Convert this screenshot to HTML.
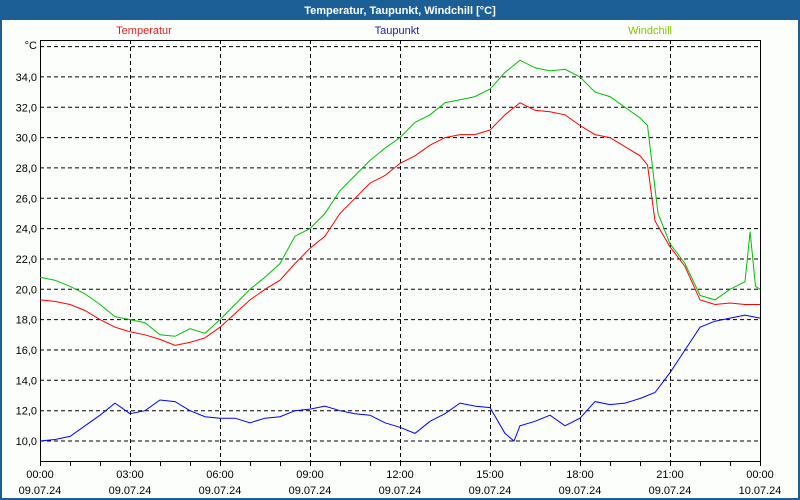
<!DOCTYPE html>
<html><head><meta charset="utf-8"><style>
body{margin:0;width:800px;height:500px;overflow:hidden;background:#1c5f96;font-family:"Liberation Sans",sans-serif}
</style></head><body>
<svg width="800" height="500" xmlns="http://www.w3.org/2000/svg" style="position:absolute;left:0;top:0">
<rect x="0" y="0" width="800" height="500" fill="#1c5f96"/>
<rect x="2" y="20" width="796" height="478" fill="#fcfefc"/>
<text x="400" y="14" fill="#fff" font-size="11" font-weight="bold" text-anchor="middle" font-family="Liberation Sans, sans-serif">Temperatur, Taupunkt, Windchill [°C]</text>
<g id="g" font-family="Liberation Sans, sans-serif" font-size="11"></g>
</svg>
<script>
var g=document.getElementById('g'),s='';
function X(h){return 40+30*h}
function Y(v){return 441-(v-10)*15.17}
for(var v=10;v<=36;v+=2){var y=Y(v).toFixed(1);s+='<line x1="40" x2="760" y1="'+y+'" y2="'+y+'" stroke="#000" stroke-dasharray="4,3"/>';if(v<36)s+='<text x="37" y="'+(+y+4)+'" text-anchor="end">'+v+',0</text>';}
s+='<text x="37" y="49" text-anchor="end">°C</text>';
for(var h=3;h<24;h+=3){s+='<line x1="'+X(h)+'.5" x2="'+X(h)+'.5" y1="40" y2="461" stroke="#000" stroke-dasharray="4,3"/>';}
for(var h=0;h<=24;h++){s+='<line x1="'+(X(h)+.5)+'" x2="'+(X(h)+.5)+'" y1="461" y2="466" stroke="#000"/>';}
for(var h=0;h<=24;h+=3){s+='<text x="'+X(h)+'" y="478" text-anchor="middle">'+(h==24?'00':('0'+h).slice(-2))+':00</text><text x="'+X(h)+'" y="494" text-anchor="middle">'+(h==24?'10.07.24':'09.07.24')+'</text>';}
s+='<rect x="40.5" y="40.5" width="720" height="421" fill="none" stroke="#000"/>';
s+='<text x="144" y="34" fill="#e02020" text-anchor="middle">Temperatur</text><text x="397" y="34" fill="#2020a0" text-anchor="middle">Taupunkt</text><text x="650" y="34" fill="#80c800" text-anchor="middle">Windchill</text>';
function line(d,c){var p=[];for(var i=0;i<d.length;i+=2)p.push(X(d[i]).toFixed(1)+','+Y(d[i+1]).toFixed(1));return '<polyline fill="none" stroke="'+c+'" points="'+p.join(' ')+'"/>';}
var T=[0,19.3,.5,19.2,1,19,1.5,18.6,2,18,2.5,17.5,3,17.2,3.5,17,4,16.7,4.5,16.3,5,16.5,5.5,16.8,6,17.5,6.5,18.4,7,19.3,7.5,20,8,20.6,8.5,21.7,9,22.7,9.5,23.5,10,25,10.5,26,11,27,11.5,27.5,12,28.3,12.5,28.8,13,29.5,13.5,30,14,30.2,14.5,30.2,15,30.5,15.5,31.5,16,32.3,16.5,31.8,17,31.7,17.5,31.5,18,30.8,18.5,30.2,19,30,19.5,29.4,20,28.8,20.25,28.2,20.5,24.5,21,22.8,21.5,21.5,22,19.3,22.5,19,23,19.1,23.5,19,24,19];
var W=[0,20.8,.5,20.6,1,20.2,1.5,19.7,2,19,2.5,18.2,3,18,3.5,17.8,4,17,4.5,16.9,5,17.4,5.5,17.1,6,18,6.5,19,7,20,7.5,20.8,8,21.7,8.5,23.5,9,24,9.5,25,10,26.5,10.5,27.5,11,28.5,11.5,29.3,12,30,12.5,31,13,31.5,13.5,32.3,14,32.5,14.5,32.7,15,33.2,15.5,34.3,16,35.1,16.5,34.6,17,34.4,17.5,34.5,18,34,18.5,33,19,32.7,19.5,32,20,31.3,20.25,30.8,20.6,25,21,23,21.5,21.7,22,19.6,22.5,19.3,23,20,23.5,20.5,23.67,23.8,23.85,20.2,24,20];
var D=[0,10,.5,10.1,1,10.3,1.5,11,2,11.7,2.5,12.5,3,11.8,3.5,12,4,12.7,4.5,12.6,5,12,5.5,11.6,6,11.5,6.5,11.5,7,11.2,7.5,11.5,8,11.6,8.5,12,9,12.1,9.5,12.3,10,12,10.5,11.8,11,11.7,11.5,11.2,12,10.9,12.5,10.5,13,11.3,13.5,11.8,14,12.5,14.5,12.3,15,12.2,15.5,10.5,15.8,10,16,11,16.5,11.3,17,11.7,17.5,11,18,11.5,18.5,12.6,19,12.4,19.5,12.5,20,12.8,20.5,13.2,21,14.5,21.5,16,22,17.5,22.5,17.9,23,18.1,23.5,18.3,24,18.1];
s+=line(W,'#00c000')+line(T,'#ff0000')+line(D,'#0000ff');
g.innerHTML=s;
</script>
</body></html>
